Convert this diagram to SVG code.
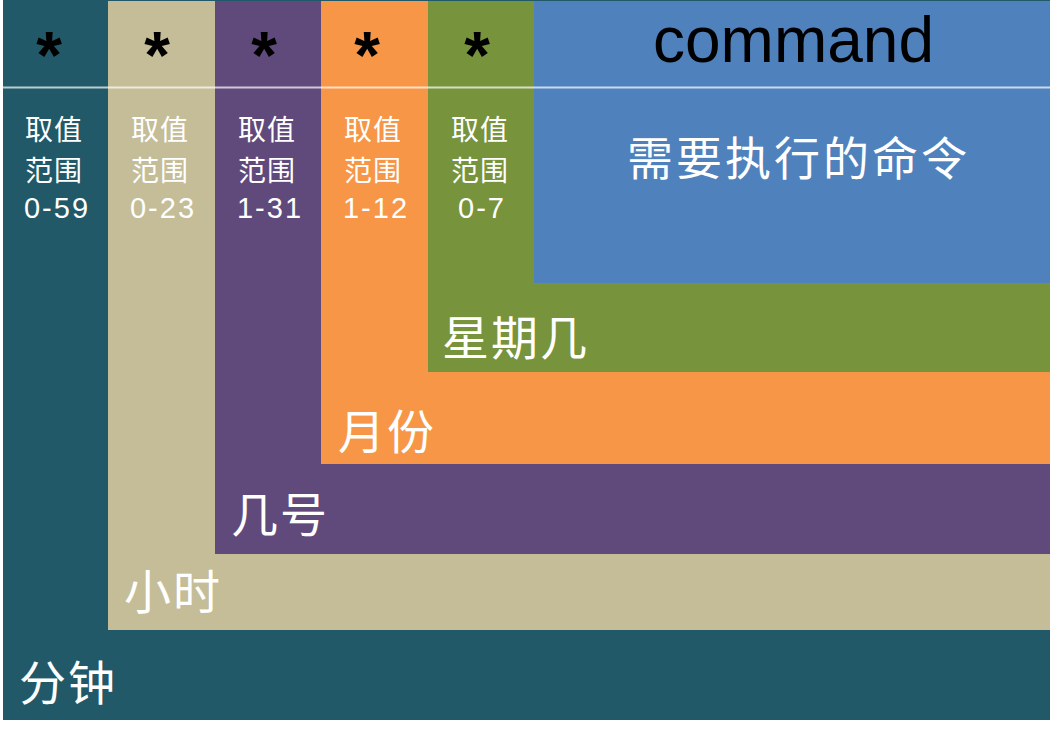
<svg xmlns="http://www.w3.org/2000/svg" width="1050" height="732" viewBox="0 0 1050 732">
<style>
.star{font-family:"Liberation Sans",Arial,sans-serif;font-weight:bold;font-size:66px;fill:#000;text-anchor:middle}
.cmd{font-family:"Liberation Sans",Arial,sans-serif;font-size:64px;fill:#000}
.rng{font-family:"Noto Sans CJK SC","Noto Sans",sans-serif;font-size:28px;letter-spacing:1px;fill:#fff;text-anchor:middle}
.num{font-family:"Liberation Sans",Arial,sans-serif;font-size:29px;letter-spacing:2px;fill:#fff;text-anchor:middle}
.big{font-family:"Noto Sans CJK SC",sans-serif;font-size:47px;letter-spacing:2px;fill:#fff}
.desc{font-family:"Noto Sans CJK SC",sans-serif;font-size:46px;letter-spacing:3px;fill:#fff}
</style>
<rect width="1050" height="732" fill="#fff"/>
<g id="minute">
<rect x="3" y="0" width="1047" height="720" fill="#215968"/>
<text class="big" x="19" y="700">分钟</text>
</g>
<g id="hour">
<rect x="108" y="1" width="942" height="629" fill="#C4BD97"/>
<text class="big" x="124" y="609">小时</text>
</g>
<g id="day">
<rect x="215" y="1" width="835" height="553" fill="#604A7B"/>
<text class="big" x="231" y="532">几号</text>
</g>
<g id="month">
<rect x="321" y="1" width="729" height="463" fill="#F79646"/>
<text class="big" x="338" y="449">月份</text>
</g>
<g id="weekday">
<rect x="428" y="1" width="622" height="371" fill="#77933C"/>
<text class="big" x="442" y="355">星期几</text>
</g>
<g id="command">
<rect x="534" y="1" width="516" height="282" fill="#4F81BD"/>
<text class="cmd" x="653" y="62">command</text>
<text class="desc" x="627" y="175">需要执行的命令</text>
</g>
<line x1="3" y1="87.5" x2="1050" y2="87.5" stroke="#fff" stroke-opacity="0.7" stroke-width="2"/>
<g id="stars">
<text class="star" x="49" y="78">*</text>
<text class="star" x="157" y="78">*</text>
<text class="star" x="264" y="78">*</text>
<text class="star" x="367" y="78">*</text>
<text class="star" x="477" y="78">*</text>
</g>
<g id="ranges">
<text class="rng"><tspan x="54" y="140">取值</tspan><tspan x="54" y="181">范围</tspan></text><text class="num" x="57" y="218">0-59</text>
<text class="rng"><tspan x="160" y="140">取值</tspan><tspan x="160" y="181">范围</tspan></text><text class="num" x="163" y="218">0-23</text>
<text class="rng"><tspan x="267" y="140">取值</tspan><tspan x="267" y="181">范围</tspan></text><text class="num" x="270" y="218">1-31</text>
<text class="rng"><tspan x="373" y="140">取值</tspan><tspan x="373" y="181">范围</tspan></text><text class="num" x="376" y="218">1-12</text>
<text class="rng"><tspan x="480" y="140">取值</tspan><tspan x="480" y="181">范围</tspan></text><text class="num" x="482" y="218">0-7</text>
</g>
<g id="connectors"/>
</svg>
